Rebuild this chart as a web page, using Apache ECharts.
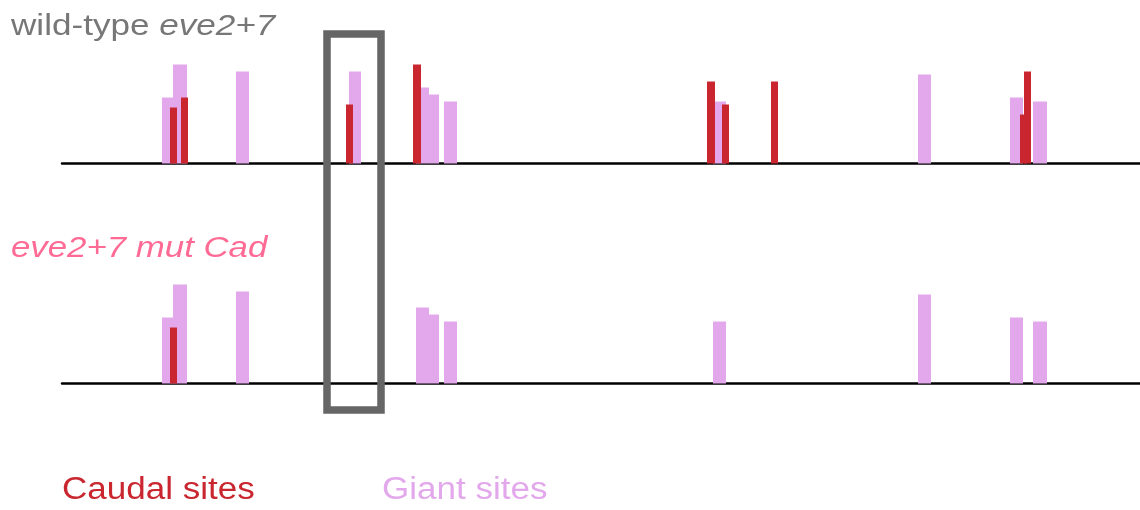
<!DOCTYPE html>
<html>
<head>
<meta charset="utf-8">
<script src="https://cdn.jsdelivr.net/npm/echarts@6/dist/echarts.min.js"></script>
<style>
  html, body { margin: 0; padding: 0; background: #fff; }
  #chart { width: 1140px; height: 510px; }
</style>
</head>
<body>
<div id="chart"></div>
<script>
// site positions along the enhancer: [start, end, score]
const wtGiant = [
  [100, 111, 66], [111, 125, 99], [174, 187, 92], [287, 299, 92],
  [354, 367, 76], [367, 377, 69], [382, 395, 62], [651, 664, 62],
  [856, 869, 89], [948, 961, 66], [971, 985, 62]
];
const wtCaudal = [
  [108, 115, 56], [119, 126, 66], [284, 291, 59], [351, 359, 99],
  [645, 653, 82], [660, 667, 59], [709, 716, 82], [958, 965, 49],
  [962, 969, 92]
];
const mutGiant = [
  [100, 111, 66], [111, 125, 99], [174, 187, 92], [354, 367, 76],
  [367, 377, 69], [382, 395, 62], [651, 664, 62], [856, 869, 89],
  [948, 961, 66], [971, 985, 62]
];
const mutCaudal = [
  [108, 115, 56]
];
const seqRange = [0, 1078];
const highlight = [265, 319]; // region boxed in the figure

const giantColor = "#e3a8ec";
const caudalColor = "#c9262f";
const font = "'Liberation Sans', Arial, sans-serif";

const chart = echarts.init(document.getElementById("chart"));

// draw a site as a rectangle from start to end, height = score
const renderSite = (color) => (params, api) => {
  const p0 = api.coord([api.value(0), 0]);
  const p1 = api.coord([api.value(1), api.value(2)]);
  return {
    type: "rect",
    shape: { x: p0[0], y: p1[1], width: p1[0] - p0[0], height: p0[1] - p1[1] },
    style: { fill: color }
  };
};

const siteSeries = (data, color, idx, z) => ({
  type: "custom",
  xAxisIndex: idx,
  yAxisIndex: idx,
  renderItem: renderSite(color),
  encode: { x: [0, 1], y: 2 },
  data: data,
  z: z,
  silent: true
});

const xAxisBase = (idx) => ({
  type: "value",
  gridIndex: idx,
  min: seqRange[0],
  max: seqRange[1],
  axisLine: { show: true, onZero: false, lineStyle: { color: "#000", width: 2.5 } },
  axisTick: { show: false },
  axisLabel: { show: false },
  splitLine: { show: false }
});
const yAxisBase = (idx) => ({
  type: "value",
  gridIndex: idx,
  min: 0,
  max: 100,
  show: false
});

const labels = [
  {
    type: "text", x: 11, y: 27, scaleX: 1.17,
    style: {
      text: "{n|wild-type }{i|eve2+7}",
      textVerticalAlign: "middle",
      rich: {
        n: { fontSize: 30, fontFamily: font, fill: "#777", fontStyle: "normal" },
        i: { fontSize: 30, fontFamily: font, fill: "#777", fontStyle: "italic" }
      }
    }
  },
  {
    type: "text", x: 11, y: 249, scaleX: 1.16,
    style: {
      text: "eve2+7 mut Cad",
      font: "italic 30px " + font,
      fill: "#ff6b95",
      textVerticalAlign: "middle"
    }
  },
  {
    type: "text", x: 62, y: 490, scaleX: 1.13,
    style: { text: "Caudal sites", font: "31px " + font, fill: caudalColor, textVerticalAlign: "middle" }
  },
  {
    type: "text", x: 382, y: 490, scaleX: 1.13,
    style: { text: "Giant sites", font: "31px " + font, fill: giantColor, textVerticalAlign: "middle" }
  }
];

chart.setOption({
  animation: false,
  backgroundColor: "#fff",
  grid: [
    { left: 62, right: 0, top: 63.5, height: 100 },
    { left: 62, right: 0, top: 283.5, height: 100 }
  ],
  xAxis: [xAxisBase(0), xAxisBase(1)],
  yAxis: [yAxisBase(0), yAxisBase(1)],
  series: [
    siteSeries(wtGiant, giantColor, 0, 2),
    siteSeries(wtCaudal, caudalColor, 0, 3),
    siteSeries(mutGiant, giantColor, 1, 2),
    siteSeries(mutCaudal, caudalColor, 1, 3)
  ],
  graphic: labels
});

// grey box around the highlighted region, spanning both tracks
const bx0 = chart.convertToPixel({ xAxisIndex: 0 }, highlight[0]);
const bx1 = chart.convertToPixel({ xAxisIndex: 0 }, highlight[1]);
chart.setOption({
  graphic: labels.concat([{
    type: "rect",
    z: 10,
    shape: { x: bx0, y: 34, width: bx1 - bx0, height: 376 },
    style: { fill: "none", stroke: "#666", lineWidth: 7.5 }
  }])
});
</script>
</body>
</html>
